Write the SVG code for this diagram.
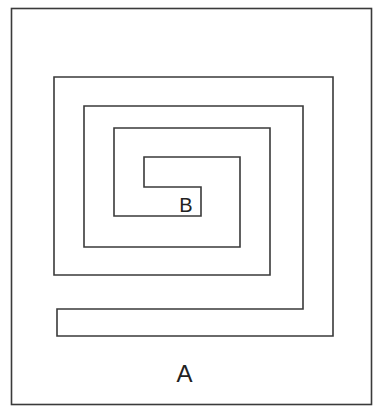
<svg xmlns="http://www.w3.org/2000/svg" width="374" height="409" viewBox="0 0 374 409">
<style>
.wall{fill:none;stroke:#3a3a3a;stroke-width:1.6;stroke-linejoin:miter}
.lbl{font-family:"Liberation Sans",Arial,sans-serif;fill:#222;text-anchor:middle}
</style>
<rect width="374" height="409" fill="#fff"/>
<g id="frame">
<rect class="wall" x="11.5" y="8.5" width="360" height="396"/>
</g>
<g id="spiral">
<path class="wall" d="M303,106 L84,106 L84,247 L240,247 L240,157 L144,157 L144,187 L201,187 L201,216 L114,216 L114,128 L270,128 L270,275 L54,275 L54,77 L333,77 L333,336 L57,336 L57,309 L303,309 Z"/>
</g>
<g id="labelB">
<text class="lbl" x="186" y="212" font-size="20">B</text>
</g>
<g id="labelA">
<text class="lbl" x="184.5" y="382" font-size="24">A</text>
</g>
</svg>
